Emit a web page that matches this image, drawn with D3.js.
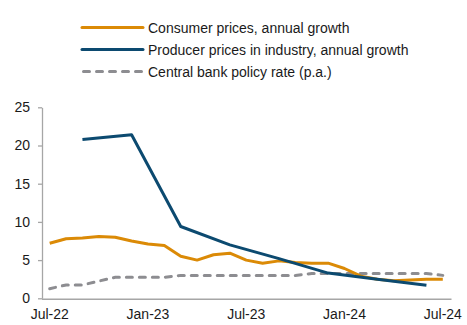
<!DOCTYPE html>
<html>
<head>
<meta charset="utf-8">
<script src="https://cdn.jsdelivr.net/npm/d3@7"></script>
<style>
  html, body { margin: 0; padding: 0; background: #fff; }
  svg { display: block; font-family: "Liberation Sans", Arial, sans-serif; }
</style>
</head>
<body>
<svg id="chart" width="467" height="325"></svg>
<script>
// Monthly observations, Jul-22 .. Jul-24
const months = ["2022-07","2022-08","2022-09","2022-10","2022-11","2022-12",
  "2023-01","2023-02","2023-03","2023-04","2023-05","2023-06",
  "2023-07","2023-08","2023-09","2023-10","2023-11","2023-12",
  "2024-01","2024-02","2024-03","2024-04","2024-05","2024-06","2024-07"];

const consumerPrices = [7.2, 7.8, 7.9, 8.1, 8.0, 7.5,
  7.1, 6.9, 5.5, 5.0, 5.7, 5.9,
  5.0, 4.6, 4.9, 4.7, 4.6, 4.6,
  3.9, 2.9, 2.5, 2.3, 2.4, 2.5, 2.5];

// Quarterly series (null where no observation)
const producerPrices = [null, null, 20.8, null, null, 21.4,
  null, null, 9.4, null, null, 7.0,
  null, null, 5.2, null, null, 3.3,
  null, null, 2.5, null, null, 1.7, null];

const policyRate = [1.25, 1.75, 1.75, 2.25, 2.75, 2.75,
  2.75, 2.75, 3.0, 3.0, 3.0, 3.0,
  3.0, 3.0, 3.0, 3.0, 3.25, 3.25,
  3.25, 3.25, 3.25, 3.25, 3.25, 3.25, 3.0];

const yTicks = [0, 5, 10, 15, 20, 25];
const xTickMonths = ["2022-07","2023-01","2023-07","2024-01","2024-07"];
const xTickLabels = ["Jul-22","Jan-23","Jul-23","Jan-24","Jul-24"];

const seriesNames = ["Consumer prices, annual growth",
  "Producer prices in industry, annual growth",
  "Central bank policy rate (p.a.)"];

const colors = { cpi: "#db8a06", ppi: "#0c4a70", rate: "#8d8d91", axis: "#a6a6a6", text: "#1a1a1a" };

const svg = d3.select("#chart");

const x = d3.scaleBand().domain(months).range([41.5, 451]).padding(0);
const xc = m => x(m) + x.bandwidth() / 2;
const y = d3.scaleLinear().domain([0, 25]).range([298.3, 107.3]);

// Y axis
const yAxis = svg.append("g")
  .attr("transform", `translate(${x.range()[0] + 0.5},0)`)
  .call(d3.axisLeft(y).tickValues(yTicks).tickSize(4).tickPadding(8).tickSizeOuter(0));
yAxis.select(".domain").attr("stroke", colors.axis).attr("stroke-width", 1.3);
yAxis.selectAll(".tick line").attr("stroke", colors.axis).attr("stroke-width", 1.3);
yAxis.selectAll(".tick text")
  .attr("fill", colors.text).attr("font-size", 14)
  .attr("font-family", "Liberation Sans, Arial, sans-serif");

// X axis (labels only, no tick marks)
const labelFor = new Map(xTickMonths.map((m, i) => [m, xTickLabels[i]]));
const xAxis = svg.append("g")
  .attr("transform", `translate(0,${y(0) + 0.5})`)
  .call(d3.axisBottom(x).tickValues(xTickMonths).tickFormat(m => labelFor.get(m))
    .tickSize(0).tickPadding(10).tickSizeOuter(0));
xAxis.select(".domain").attr("stroke", colors.axis).attr("stroke-width", 1.6);
xAxis.selectAll(".tick text")
  .attr("fill", colors.text).attr("font-size", 14)
  .attr("font-family", "Liberation Sans, Arial, sans-serif");

// Lines
const line = d3.line()
  .defined(d => d.v != null)
  .x(d => xc(d.m))
  .y(d => y(d.v));

const toPts = arr => months.map((m, i) => ({ m, v: arr[i] }));

svg.append("path")
  .datum(toPts(policyRate))
  .attr("fill", "none")
  .attr("stroke", colors.rate)
  .attr("stroke-width", 3)
  .attr("stroke-dasharray", "6,7")
  .attr("stroke-linecap", "round")
  .attr("d", line);

svg.append("path")
  .datum(toPts(consumerPrices))
  .attr("fill", "none")
  .attr("stroke", colors.cpi)
  .attr("stroke-width", 3)
  .attr("stroke-linejoin", "round")
  .attr("d", line);

svg.append("path")
  .datum(toPts(producerPrices).filter(d => d.v != null))
  .attr("fill", "none")
  .attr("stroke", colors.ppi)
  .attr("stroke-width", 3)
  .attr("stroke-linejoin", "round")
  .attr("d", line);

// Legend
const legendItems = [
  { name: seriesNames[0], color: colors.cpi, dash: null },
  { name: seriesNames[1], color: colors.ppi, dash: null },
  { name: seriesNames[2], color: colors.rate, dash: "6,7" }
];
const legend = svg.append("g").attr("transform", "translate(82,27.5)");
const rows = legend.selectAll("g").data(legendItems).join("g")
  .attr("transform", (d, i) => `translate(0,${i * 22})`);
rows.append("line")
  .attr("x1", d => d.dash ? 1.5 : 0).attr("x2", d => d.dash ? 59.5 : 61)
  .attr("y1", 0).attr("y2", 0)
  .attr("stroke", d => d.color).attr("stroke-width", 3)
  .attr("stroke-linecap", "round")
  .attr("stroke-dasharray", d => d.dash);
rows.append("text")
  .attr("x", 66).attr("y", 5)
  .attr("font-size", 14).attr("fill", colors.text)
  .text(d => d.name);
</script>
</body>
</html>
